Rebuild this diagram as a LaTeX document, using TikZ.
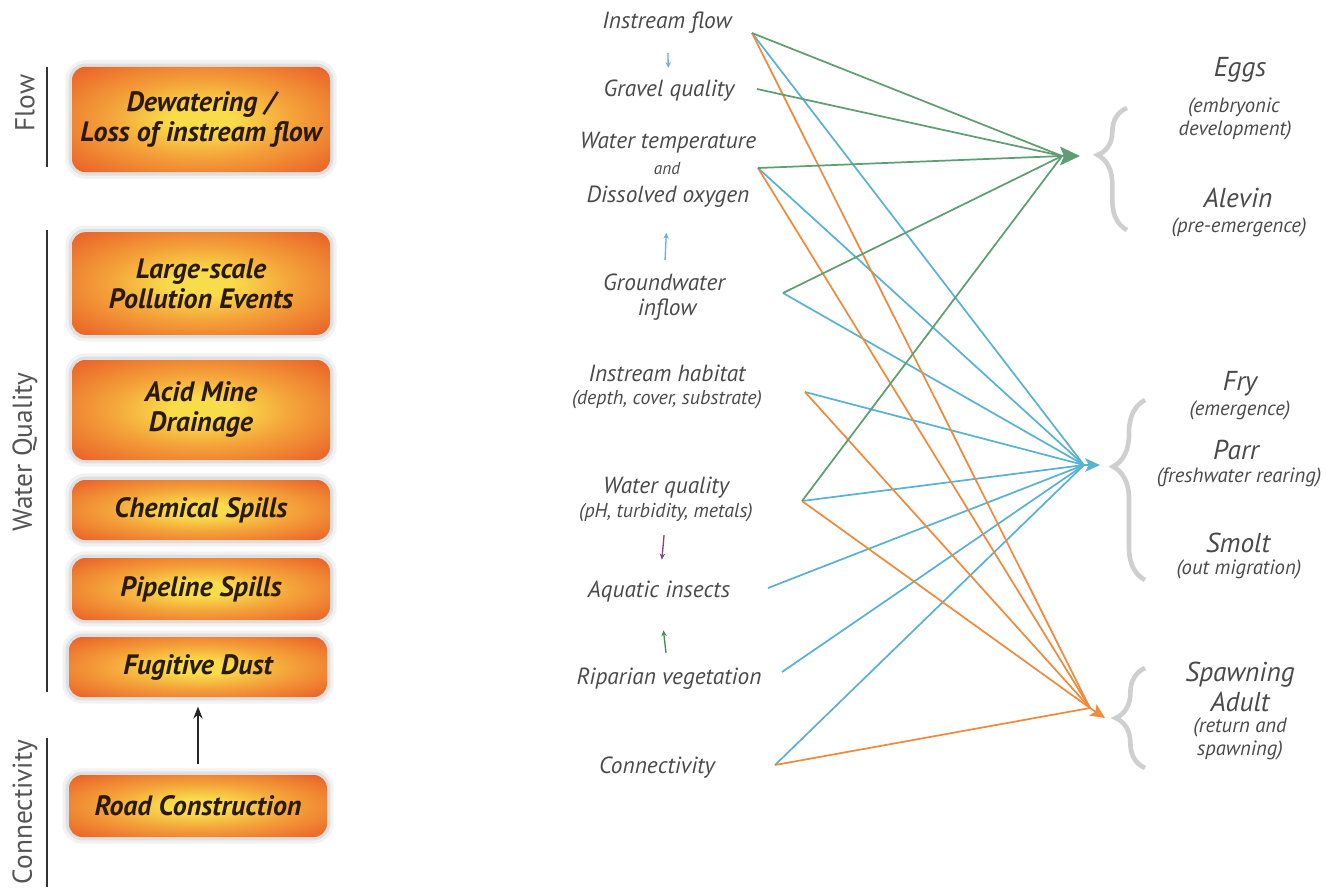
\documentclass[tikz,border=0pt]{standalone}
\usepackage{fontspec}
\setmainfont{PT Sans}
\usetikzlibrary{arrows.meta,calc,decorations.pathreplacing}
\definecolor{txt}{HTML}{4A4A4A}
\definecolor{boxtxt}{HTML}{2A1A0E}
\definecolor{vtxt}{HTML}{555555}
\definecolor{gline}{HTML}{5E9E72}
\definecolor{bline}{HTML}{5AB2D2}
\definecolor{oline}{HTML}{F08A3C}
\definecolor{bout}{HTML}{EA6429}
\definecolor{bin}{HTML}{F9DC4A}
\definecolor{bmid}{HTML}{F4A23A}
\definecolor{sblue}{HTML}{6AAEDC}
\definecolor{spurple}{HTML}{7A4A7A}
\definecolor{sgreen}{HTML}{4A8A5A}
\definecolor{bracegray}{HTML}{CFCFCF}
\pgfdeclareradialshading{glow}{\pgfpoint{0bp}{0bp}}{color(0bp)=(bin); color(6bp)=(bin); color(18bp)=(bmid); color(34bp)=(bout); color(100bp)=(bout)}
\tikzset{
  box/.style={shade, shading=glow, rounded corners=10pt, minimum width=193.5pt,
    text=boxtxt, align=center, inner sep=2pt,
    font=\bfseries\itshape\fontsize{21}{22.5}\selectfont,
    preaction={draw=black, opacity=0.05, line width=10pt},
    preaction={draw=black, opacity=0.08, line width=5pt}},
  lbl/.style={text=txt, align=center, inner sep=1pt, font=\itshape\fontsize{17.5}{20}\selectfont},
  lbls/.style={text=txt, align=center, inner sep=1pt, font=\itshape\fontsize{15}{17}\selectfont},
  lbland/.style={text=txt, align=center, inner sep=1pt, font=\itshape\fontsize{13}{15}\selectfont},
  big/.style={text=txt, align=center, inner sep=0pt, font=\itshape\fontsize{20.5}{24}\selectfont},
  sml/.style={text=txt, align=center, inner sep=0pt, font=\itshape\fontsize{15.5}{17}\selectfont},
  vlab/.style={text=vtxt, rotate=90, inner sep=1pt, font=\fontsize{20.5}{22}\selectfont},
  vline/.style={draw=black!80, line width=1.1pt},
  sarrow/.style={line width=1pt, -{Stealth[length=4.5pt,width=4pt]}},
  gl/.style={draw=gline, line width=1.3pt},
  bl/.style={draw=bline, line width=1.3pt},
  ol/.style={draw=oline, line width=1.3pt},
  bracest/.style={draw=bracegray, line width=3.5pt, decorate},
}
\begin{document}
\begin{tikzpicture}[x=0.75pt, y=-0.75pt]
\useasboundingbox (0,0) rectangle (1326,894);

% left category labels
\node[vlab] (vflow) at (25,103) {Flow};
\node[vlab] (vwq) at (25,452) {Water Quality};
\node[vlab] (vcon) at (25,812) {Connectivity};
\draw[vline] (47,67) -- (47,167);
\draw[vline] (47,230) -- (47,692);
\draw[vline] (47,738) -- (47,887);

% boxes
\node[box, minimum height=79pt] (b1) at (201,119.5) {Dewatering /\\Loss of instream flow};
\node[box, minimum height=77pt] (b2) at (201,283.5) {Large-scale\\Pollution Events};
\node[box, minimum height=75pt] (b3) at (201,410) {Acid Mine\\Drainage};
\node[box, minimum height=45pt] (b4) at (201,510) {Chemical Spills};
\node[box, minimum height=46.5pt] (b5) at (201,589) {Pipeline Spills};
\node[box, minimum height=45pt] (b6) at (198,667) {Fugitive Dust};
\node[box, minimum height=46.5pt] (b7) at (198,806) {Road Construction};
\draw[line width=1.1pt, draw=black!85, -{Stealth[length=9pt,width=7pt]}, shorten <=8pt, shorten >=7pt] (b7) -- (b6);

% middle labels
\node[lbl] (ifl) at (667,23) {Instream flow};
\node[lbl] (gq) at (669,91) {Gravel quality};
\node[lbl] (wt) at (668,143) {Water temperature};
\node[lbland] (wtand) at (667,169) {and};
\node[lbl] (dox) at (668,197) {Dissolved oxygen};
\node[lbl] (gw) at (664,282) {Groundwater};
\node[lbl] (gwi) at (667,310) {inflow};
\node[lbl] (ih) at (667,373) {Instream habitat};
\node[lbls] (ihs) at (667,400) {(depth, cover, substrate)};
\node[lbl] (wq) at (666,488) {Water quality};
\node[lbls] (wqs) at (666,513) {(pH, turbidity, metals)};
\node[lbl] (ai) at (659,592) {Aquatic insects};
\node[lbl] (rv) at (669,679) {Riparian vegetation};
\node[lbl] (cn) at (657,768) {Connectivity};

% small arrows between middle labels
\draw[sarrow, sblue] ($(ifl)!0.44!(gq)$) -- ($(ifl)!0.66!(gq)$);
\draw[sarrow, sblue] ($(gw)!0.26!(dox)$) -- ($(gw)!0.58!(dox)$);
\draw[sarrow, spurple] ($(wqs)!0.28!(ai)$) -- ($(wqs)!0.59!(ai)$);
\draw[sarrow, sgreen] ($(rv)!0.30!(ai)$) -- ($(rv)!0.56!(ai)$);

% right labels
\node[big] (eggs) at (1240,70) {Eggs};
\node[sml] (eggs1) at (1234,107) {(embryonic};
\node[sml] (eggs2) at (1235,130) {development)};
\node[big] (alevin) at (1238,198) {Alevin};
\node[sml] (alevin1) at (1239,227) {(pre-emergence)};
\node[big] (fry) at (1240,384) {Fry};
\node[sml] (fry1) at (1240,410) {(emergence)};
\node[big] (parr) at (1236,450) {Parr};
\node[sml] (parr1) at (1239,477) {(freshwater rearing)};
\node[big] (smolt) at (1238,543) {Smolt};
\node[sml] (smolt1) at (1239,569) {(out migration)};
\node[big] (spawn) at (1240,675) {Spawning};
\node[big] (adult) at (1240,702) {Adult};
\node[sml] (adult1) at (1240,727) {(return and};
\node[sml] (adult2) at (1240,750) {spawning)};

% braces
\draw[bracest, decoration={brace, amplitude=22pt, aspect=0.615}] (1127,230) -- (1127,108);
\draw[bracest, decoration={brace, amplitude=24pt, aspect=0.63}] (1145,580) -- (1145,400);
\draw[bracest, decoration={brace, amplitude=22pt, aspect=0.5}] (1145,768) -- (1145,668);

% connector start points
\coordinate (s-ifl) at (752,33);
\coordinate (s-gq) at (757,89);
\coordinate (s-wt) at (758,168);
\coordinate (s-gw) at (783,293);
\coordinate (s-ih) at (805,392);
\coordinate (s-wq) at (802,501);
\coordinate (s-ai) at (768,588);
\coordinate (s-rv) at (782,672);
\coordinate (s-cn) at (775,765);
% junctions and tips
\coordinate (jg) at (1062,156);
\coordinate (tg) at (1080,156);
\coordinate (jb) at (1084,465);
\coordinate (tb) at (1100,465);
\coordinate (jo) at (1090,708);
\coordinate (to) at (1105,718);

\foreach \s in {ifl,wt,gw,ih,wq,ai,rv,cn} \draw[bl] (s-\s) -- (jb);
\foreach \s in {ifl,wt,ih,wq,cn} \draw[ol] (s-\s) -- (jo);
\foreach \s in {ifl,gq,wt,gw,wq} \draw[gl] (s-\s) -- (jg);

\draw[gl, -{Stealth[length=15pt,width=14pt,inset=3pt]}] (jg) -- (tg);
\draw[bl, -{Stealth[length=11pt,width=10pt,inset=2.5pt]}] (jb) -- (tb);
\draw[ol, -{Stealth[length=11pt,width=10pt,inset=2.5pt]}] (jo) -- (to);
\end{tikzpicture}
\end{document}
